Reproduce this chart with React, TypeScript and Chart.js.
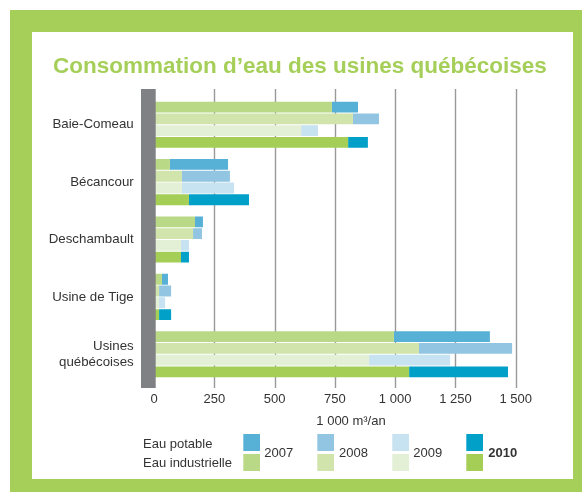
import React, { useEffect, useRef } from "react";
import { Chart, registerables } from "chart.js";

Chart.register(...registerables);

const categories: (string | string[])[] = [
  "Baie-Comeau",
  "Bécancour",
  "Deschambault",
  "Usine de Tige",
  ["Usines", "québécoises"],
];
const years = ["2007", "2008", "2009", "2010"];

// Eau industrielle (1 000 m³/an)
const industrielle2007 = [738, 66, 170, 33, 995];
const industrielle2008 = [825, 116, 162, 21, 1099];
const industrielle2009 = [610, 116, 112, 21, 892];
const industrielle2010 = [805, 145, 112, 21, 1058];

// Eau potable (1 000 m³/an)
const potable2007 = [108, 241, 33, 25, 398];
const potable2008 = [108, 199, 37, 50, 386];
const potable2009 = [70, 216, 33, 25, 336];
const potable2010 = [82, 249, 33, 50, 410];

const xTickValues = [0, 250, 500, 750, 1000, 1250, 1500];

const industrielleColors = ["#b9d986", "#d0e4ab", "#e3f0d6", "#a5ce57"];
const potableColors = ["#57b1d7", "#92c5e2", "#c7e2f0", "#00a0c9"];

const FONT = '"Liberation Sans", Arial, Helvetica, sans-serif';
const TEXT = "#333333";
const GREEN = "#a5cf59";

const fmt = (v: number) => String(v).replace(/\B(?=(\d{3})+(?!\d))/g, " ");

export default function App() {
  const ref = useRef<HTMLCanvasElement | null>(null);

  useEffect(() => {
    if (!ref.current) return;
    const ind = [industrielle2007, industrielle2008, industrielle2009, industrielle2010];
    const pot = [potable2007, potable2008, potable2009, potable2010];
    const datasets: any[] = [];
    years.forEach((y, i) => {
      datasets.push({
        label: "Eau industrielle " + y,
        data: ind[i],
        backgroundColor: industrielleColors[i],
        stack: y,
        borderWidth: 0,
        categoryPercentage: 0.82,
        barPercentage: 0.92,
      });
      datasets.push({
        label: "Eau potable " + y,
        data: pot[i],
        backgroundColor: potableColors[i],
        stack: y,
        borderWidth: 0,
        categoryPercentage: 0.82,
        barPercentage: 0.92,
      });
    });

    const decor = {
      id: "decor",
      beforeDraw(chart: any) {
        const ctx = chart.ctx;
        ctx.save();
        ctx.fillStyle = "#ffffff";
        ctx.fillRect(0, 0, chart.width, chart.height);
        ctx.fillStyle = GREEN;
        ctx.fillRect(10, 10, 572, 482);
        ctx.fillStyle = "#ffffff";
        ctx.fillRect(32, 32, 541, 447);
        ctx.restore();
      },
      beforeDatasetsDraw(chart: any) {
        const ctx = chart.ctx;
        const xs = chart.scales.x;
        ctx.save();
        ctx.strokeStyle = "#999999";
        ctx.lineWidth = 1.4;
        xTickValues.forEach((v) => {
          if (v === 0) return;
          const x = Math.round(xs.getPixelForValue(v)) + 0.5;
          ctx.beginPath();
          ctx.moveTo(x, 89);
          ctx.lineTo(x, 388);
          ctx.stroke();
        });
        ctx.restore();
      },
      afterDatasetsDraw(chart: any) {
        const ctx = chart.ctx;
        const x0 = chart.scales.x.getPixelForValue(0);
        ctx.save();
        ctx.fillStyle = "#808184";
        ctx.fillRect(141, 89, x0 + 1.7 - 141, 299);
        ctx.restore();
      },
      afterDraw(chart: any) {
        const ctx = chart.ctx;
        ctx.save();
        // title
        ctx.fillStyle = GREEN;
        ctx.font = "bold 22.5px " + FONT;
        ctx.textAlign = "left";
        ctx.textBaseline = "alphabetic";
        ctx.fillText("Consommation d\u2019eau des usines québécoises", 53, 73);
        // axis title
        ctx.fillStyle = TEXT;
        ctx.font = "13px " + FONT;
        ctx.textAlign = "center";
        ctx.fillText("1 000 m\u00b3/an", 351, 424.5);
        // legend
        ctx.textAlign = "left";
        ctx.fillText("Eau potable", 143, 448.3);
        ctx.fillText("Eau industrielle", 143, 466.8);
        const boxX = [243.3, 317.3, 392.3, 466.3];
        const txtX = [264.3, 339, 413.3, 488.3];
        years.forEach((y, i) => {
          ctx.fillStyle = potableColors[i];
          ctx.fillRect(boxX[i], 434, 16.7, 17);
          ctx.fillStyle = industrielleColors[i];
          ctx.fillRect(boxX[i], 454, 16.7, 17);
          ctx.fillStyle = TEXT;
          ctx.font = (i === 3 ? "bold " : "") + "13px " + FONT;
          ctx.fillText(y, txtX[i], 457.3);
        });
        ctx.restore();
      },
    };

    const chart = new Chart(ref.current, {
      type: "bar",
      data: { labels: categories as any, datasets },
      options: {
        indexAxis: "y",
        animation: false,
        responsive: false,
        maintainAspectRatio: false,
        layout: { padding: { top: 96, right: 66.3, left: 0, bottom: 0 } },
        plugins: {
          legend: { display: false },
          title: { display: false },
          tooltip: { enabled: false },
        },
        scales: {
          x: {
            type: "linear",
            min: 0,
            max: 1500,
            stacked: true,
            grid: { display: false, drawTicks: false },
            border: { display: false },
            ticks: {
              stepSize: 250,
              autoSkip: false,
              maxRotation: 0,
              padding: 9,
              color: TEXT,
              font: { family: FONT, size: 13 },
              callback: (v: any) => fmt(Number(v)),
            },
            afterFit: (s: any) => {
              s.height = 109;
            },
          },
          y: {
            stacked: true,
            grid: { display: false, drawTicks: false },
            border: { display: false },
            ticks: {
              autoSkip: false,
              padding: 20.3,
              color: TEXT,
              font: { family: FONT, size: 13.3, lineHeight: 1.23 },
            },
            afterFit: (s: any) => {
              s.width = 154;
            },
          },
        },
      },
      plugins: [decor],
    });
    return () => chart.destroy();
  }, []);

  return (
    <div style={{ position: "absolute", left: 0, top: 0, width: 582, height: 492 }}>
      <canvas ref={ref} width={582} height={492} />
    </div>
  );
}
